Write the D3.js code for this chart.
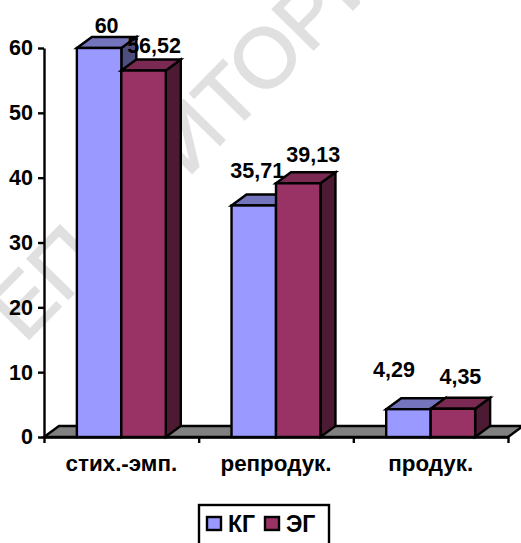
<!DOCTYPE html>
<html lang="ru">
<head>
  <meta charset="UTF-8">
  <title>КГ и ЭГ</title>
  <script src="https://d3js.org/d3.v7.min.js"></script>
  <style>
    html, body {
      margin: 0;
      padding: 0;
      background: #fff;
      overflow: hidden;
    }

    svg {
      display: block;
      font-family: "Liberation Sans", Arial, sans-serif;
    }

    .axis text,
    .label,
    .legend text {
      font-size: 21.5px;
      font-weight: bold;
      fill: #000;
    }

    .cat-axis text {
      font-size: 22.4px;
    }

    .legend text {
      font-size: 23px;
    }

    .axis path,
    .axis line {
      fill: none;
      stroke: #000;
      stroke-width: 2.4px;
    }

    .watermark {
      font-size: 84px;
      fill: #e0e0e0;
      stroke: #e0e0e0;
      stroke-width: 1.5px;
    }
  </style>
</head>
<body>
  <svg width="521" height="543"></svg>

  <script>
    const categories = ["стих.-эмп.", "репродук.", "продук."];
    const seriesNames = ["КГ", "ЭГ"];
    const valuesKG = [60, 35.71, 4.29];
    const valuesEG = [56.52, 39.13, 4.35];
    const yTicks = [0, 10, 20, 30, 40, 50, 60];

    // hand placed data labels, offsets from the top of the back edge of each bar
    const labelNudgeKG = [[0, -4], [-4, -16], [-22, -21]];
    const labelNudgeEG = [[3, -7], [7.5, -10], [0, -14]];

    const colors = {
      "КГ": {front: "#9999ff", top: "#7474bc", side: "#4d4d80"},
      "ЭГ": {front: "#993366", top: "#7a2952", side: "#4d1a33"}
    };

    const svg = d3.select("svg");
    const depthX = 15, depthY = 11;
    const plotLeft = 44, plotRight = 508, plotTop = 48, plotBottom = 437;
    const lineWidth = 2.4;

    const x = d3.scaleBand()
      .domain(categories)
      .range([plotLeft, plotRight])
      .paddingInner(0.425)
      .paddingOuter(0.2125);

    const xInner = d3.scaleBand()
      .domain(seriesNames)
      .range([0, x.bandwidth()]);

    const xEdges = d3.scaleLinear()
      .domain([0, categories.length])
      .range([plotLeft, plotRight]);

    const y = d3.scaleLinear()
      .domain([0, 60])
      .range([plotBottom, plotTop]);

    // watermark behind the plot
    svg.append("text")
      .attr("class", "watermark")
      .attr("transform", "translate(-15,384) rotate(-45.5)")
      .text("РЕПОЗИТОРИЙ");

    // floor of the 3d plot
    const floorLine = d3.line();
    svg.append("path")
      .attr("d", floorLine([
        [plotLeft, plotBottom],
        [plotLeft + depthX, plotBottom - depthY],
        [plotRight + depthX, plotBottom - depthY],
        [plotRight, plotBottom]
      ]) + "Z")
      .attr("fill", "#808080")
      .attr("stroke", "#000")
      .attr("stroke-width", lineWidth);

    const rows = [];
    categories.forEach((c, i) => {
      rows.push({cat: c, name: "КГ", value: valuesKG[i], nudge: labelNudgeKG[i]});
      rows.push({cat: c, name: "ЭГ", value: valuesEG[i], nudge: labelNudgeEG[i]});
    });

    const bars = svg.selectAll("g.bar")
      .data(rows)
      .enter().append("g")
        .attr("class", "bar")
        .attr("stroke", "#000")
        .attr("stroke-width", lineWidth)
        .attr("stroke-linejoin", "miter");

    const barX0 = d => x(d.cat) + xInner(d.name);
    const barX1 = d => barX0(d) + xInner.bandwidth();

    bars.append("path")
      .attr("fill", d => colors[d.name].side)
      .attr("d", d => floorLine([
        [barX1(d), plotBottom],
        [barX1(d) + depthX, plotBottom - depthY],
        [barX1(d) + depthX, y(d.value) - depthY],
        [barX1(d), y(d.value)]
      ]) + "Z");

    bars.append("path")
      .attr("fill", d => colors[d.name].top)
      .attr("d", d => floorLine([
        [barX0(d), y(d.value)],
        [barX0(d) + depthX, y(d.value) - depthY],
        [barX1(d) + depthX, y(d.value) - depthY],
        [barX1(d), y(d.value)]
      ]) + "Z");

    bars.append("rect")
      .attr("fill", d => colors[d.name].front)
      .attr("x", barX0)
      .attr("y", d => y(d.value))
      .attr("width", xInner.bandwidth())
      .attr("height", d => plotBottom - y(d.value));

    svg.append("g")
      .attr("class", "axis")
      .attr("transform", `translate(${plotLeft},0)`)
      .call(d3.axisLeft(y).tickValues(yTicks).tickSize(6).tickSizeOuter(0).tickPadding(5));

    svg.append("g")
      .attr("class", "axis")
      .attr("transform", `translate(0,${plotBottom})`)
      .call(d3.axisBottom(xEdges)
        .tickValues(d3.range(categories.length + 1))
        .tickFormat("")
        .tickSize(6)
        .tickSizeOuter(0));

    const catAxis = svg.append("g")
      .attr("class", "axis cat-axis")
      .attr("transform", `translate(0,${plotBottom})`)
      .call(d3.axisBottom(x).tickSize(0).tickPadding(18));
    catAxis.select(".domain").remove();

    svg.selectAll("text.label")
      .data(rows)
      .enter().append("text")
        .attr("class", "label")
        .attr("text-anchor", "middle")
        .attr("x", d => barX0(d) + xInner.bandwidth() / 2 + depthX / 2 + d.nudge[0])
        .attr("y", d => y(d.value) - depthY + d.nudge[1])
        .text(d => String(d.value).replace(".", ","));

    // legend, its box runs off the bottom of the picture
    const legend = svg.append("g").attr("class", "legend");
    legend.append("rect")
      .attr("x", 199)
      .attr("y", 505)
      .attr("width", 130)
      .attr("height", 50)
      .attr("fill", "#fff")
      .attr("stroke", "#000")
      .attr("stroke-width", lineWidth);

    const legendX = d3.scalePoint().domain(seriesNames).range([207, 265]);

    legend.selectAll("rect.key")
      .data(seriesNames)
      .enter().append("rect")
        .attr("class", "key")
        .attr("x", d => legendX(d))
        .attr("y", 517)
        .attr("width", 14)
        .attr("height", 13)
        .attr("fill", d => colors[d].front)
        .attr("stroke", "#000")
        .attr("stroke-width", lineWidth);

    legend.selectAll("text.name")
      .data(seriesNames)
      .enter().append("text")
        .attr("class", "name")
        .attr("x", d => legendX(d) + 21)
        .attr("y", 532)
        .text(d => d);
  </script>
</body>
</html>
